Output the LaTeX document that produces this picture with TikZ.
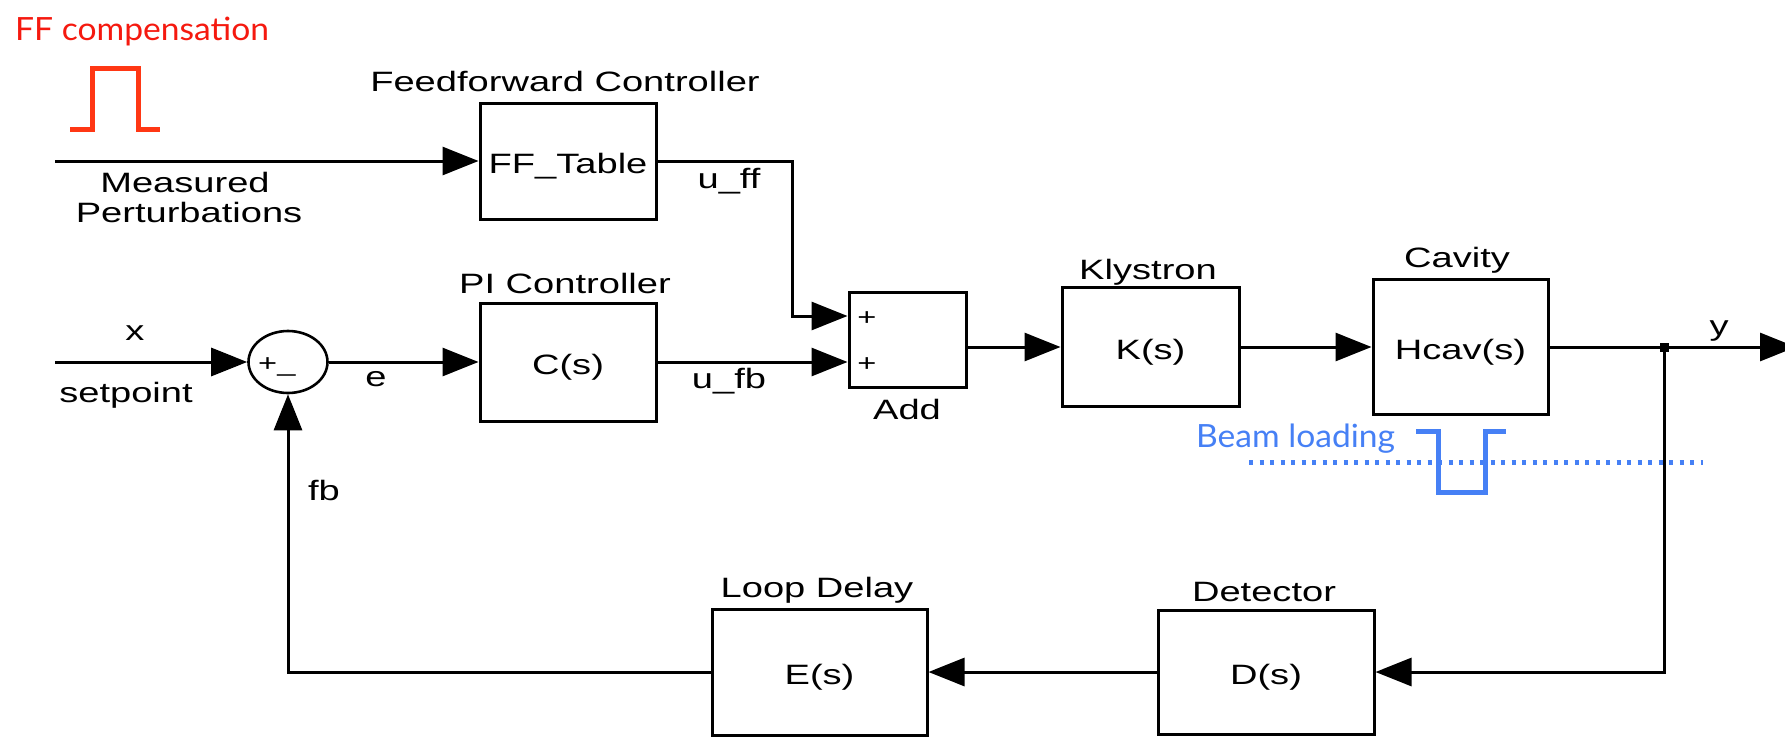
\documentclass[tikz,border=0pt]{standalone}
\usepackage{fontspec}
\setmainfont[FakeStretch=1.36]{Liberation Sans}
\newfontfamily\notefont[FakeStretch=1.05]{Lato}
\usetikzlibrary{arrows.meta,shapes.geometric}
\definecolor{ffred}{RGB}{245,25,15}
\definecolor{pulsered}{RGB}{255,55,20}
\definecolor{beamblue}{RGB}{70,128,245}
\begin{document}
\begin{tikzpicture}[x=1pt, y=-1pt,
		block/.style={draw, line width=3pt, inner sep=0pt, text height=25pt, text depth=0pt, font=\fontsize{28}{30}\selectfont},
		sig/.style={line width=3pt, -{Triangle[length=36pt,width=28pt]}},
		lbl/.style={anchor=base, inner sep=0pt, font=\fontsize{28}{30}\selectfont},
		sgn/.style={anchor=base, inner sep=0pt, font=\fontsize{24}{28}\selectfont},
		note/.style={anchor=base west, inner sep=0pt, font=\notefont\fontsize{32}{36}\selectfont},
		pulse/.style={line width=5pt}]
		% Picture size (pixels of the reference)
		\def\W{1785}
		\def\H{736}
		\useasboundingbox (0,0) rectangle (\W,\H);
		
		% Free ends of the signals
		\coordinate (meas) at (55,161);
		\coordinate (setp) at (55,362);
		\coordinate (yout) at (1796,347);
		
		% Blocks
		\node[block, minimum width=176pt, minimum height=116pt] (ff) at (568,161) {FF\_Table};
		\node[block, minimum width=176pt, minimum height=118pt] (pi) at (568,362) {C(s)};
		\node[block, minimum width=117pt, minimum height=95pt] (add) at (907.5,339.5) {};
		\node[block, minimum width=177pt, minimum height=119pt] (kly) at (1150.5,347) {K(s)};
		\node[block, minimum width=175pt, minimum height=135pt] (cav) at (1460.5,347) {Hcav(s)};
		\node[block, minimum width=215pt, minimum height=126pt] (dly) at (819.5,672) {E(s)};
		\node[block, minimum width=216pt, minimum height=124pt] (det) at (1266,672) {D(s)};
		\node[draw, ellipse, line width=2.6pt, minimum width=79pt, minimum height=62pt, inner sep=0pt] (sum) at (288,362) {};
		\node[fill, inner sep=0pt, minimum size=9pt] (tap) at (1664,347) {};
		
		% Block titles
		\node[lbl] (fftitle) at (565,91) {Feedforward Controller};
		\node[lbl] (pititle) at (565,293) {PI Controller};
		\node[lbl] (addtitle) at (907,419) {Add};
		\node[lbl] (klytitle) at (1148,279) {Klystron};
		\node[lbl] (cavtitle) at (1457,267) {Cavity};
		\node[lbl] (dlytitle) at (817,597) {Loop Delay};
		\node[lbl] (dettitle) at (1264,601) {Detector};
		
		% Signal labels
		\node[lbl] (meastxt) at (185,192) {Measured};
		\node[lbl] (perttxt) at (189,222) {Perturbations};
		\node[lbl] (xtxt) at (135,340) {x};
		\node[lbl] (setptxt) at (126,402) {setpoint};
		\node[lbl] (etxt) at (376,386) {e};
		\node[lbl] (ufftxt) at (729,188) {u\_ff};
		\node[lbl] (ufbtxt) at (729,388) {u\_fb};
		\node[lbl] (ytxt) at (1719,335) {y};
		\node[lbl] (fbtxt) at (324,500) {fb};
		
		% Signs
		\node[sgn, anchor=base west] (sumsign) at (258,371) {+\_};
		\node[sgn] (addplus1) at (867,325) {+};
		\node[sgn] (addplus2) at (867,371) {+};
		
		% Forward path
		\draw[sig] (meas) -- (ff.west);
		\draw[sig] (ff.east) -- ++(135,0) |- ([yshift=23.5pt]add.west);
		\draw[sig] (setp) -- (sum.west);
		\draw[sig] (sum.east) -- (pi.west);
		\draw[sig] (pi.east) -- (add.west |- pi.east);
		\draw[sig] (add.east |- kly.west) -- (kly.west);
		\draw[sig] (kly.east) -- (cav.west);
		\draw[sig] (cav.east) -- (yout);
		
		% Feedback path
		\draw[sig] (tap.center) |- (det.east);
		\draw[sig] (det.west) -- (dly.east);
		\draw[sig] (dly.west) -| (sum.south);
		
		% FF compensation pulse
		\node[note, text=ffred] (fftxt) at (15,40) {FF compensation};
		\draw[pulse, pulsered] (70,129) -- (92,129) -- (92,68) -- (138,68) -- (138,129) -- (160,129);
		
		% Beam loading pulse
		\node[note, text=beamblue] (beamtxt) at (1196,447) {Beam loading};
		\draw[beamblue, line width=5pt, dash pattern=on 4pt off 6.5pt] (1249,462) -- (1703,462);
		\draw[pulse, beamblue] (1416,431) -- (1438,431) -- (1438,492) -- (1485,492) -- (1485,431) -- (1506,431);
	\end{tikzpicture}
\end{document}
